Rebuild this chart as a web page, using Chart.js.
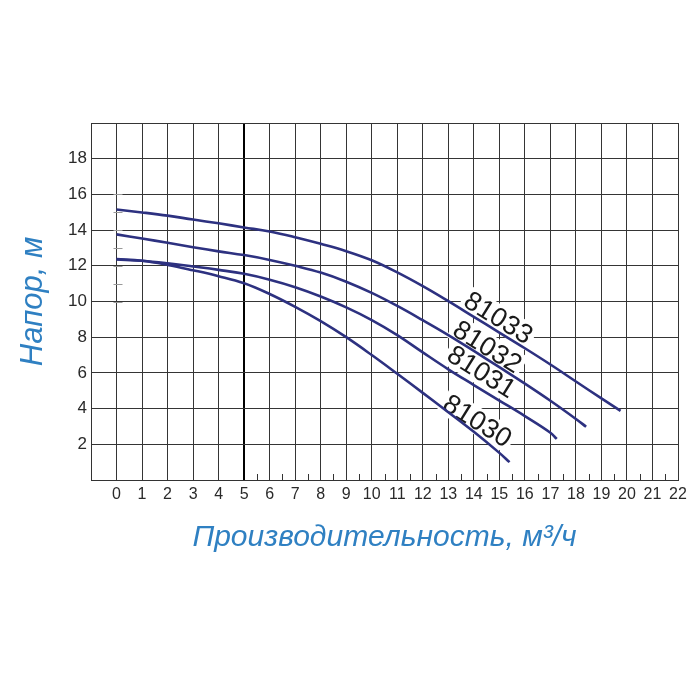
<!DOCTYPE html>
<html>
<head>
<meta charset="utf-8">
<script src="https://cdn.jsdelivr.net/npm/chart.js@4/dist/chart.umd.min.js"></script>
<style>
  html, body { margin: 0; padding: 0; background: #fff; }
  #wrap { width: 700px; height: 700px; }
</style>
</head>
<body>
<div id="wrap"><canvas id="pumpChart"></canvas></div>
<script>
// Pump curves: flow (m3/h) vs head (m)
const models = ['81033', '81032', '81031', '81030'];

const flow33 = [0, 1, 2, 3, 4, 5, 6, 7, 8, 9, 10, 11, 12, 13, 14, 15, 16, 17, 18, 19, 19.75];
const head33 = [15.15, 14.99, 14.81, 14.59, 14.38, 14.15, 13.92, 13.6, 13.23, 12.82, 12.31, 11.63, 10.86, 10.02, 9.14, 8.26, 7.38, 6.47, 5.52, 4.57, 3.87];

const flow32 = [0, 1, 2, 3, 4, 5, 6, 7, 8, 9, 10, 11, 12, 13, 14, 15, 16, 17, 18, 18.4];
const head32 = [13.76, 13.53, 13.29, 13.04, 12.81, 12.6, 12.33, 12.0, 11.62, 11.11, 10.48, 9.75, 8.95, 8.12, 7.23, 6.32, 5.4, 4.44, 3.42, 2.98];

const flow31 = [0, 1, 2, 3, 4, 5, 6, 7, 8, 9, 10, 11, 12, 13, 14, 15, 16, 17, 17.25];
const head31 = [12.35, 12.28, 12.14, 11.96, 11.77, 11.55, 11.22, 10.8, 10.28, 9.67, 8.96, 8.12, 7.15, 6.2, 5.32, 4.45, 3.58, 2.65, 2.3];

const flow30 = [0, 1, 2, 3, 4, 5, 6, 7, 8, 9, 10, 11, 12, 13, 14, 15, 15.4];
const head30 = [12.38, 12.28, 12.05, 11.75, 11.42, 11.02, 10.42, 9.7, 8.9, 8.0, 7.0, 5.95, 4.88, 3.8, 2.7, 1.52, 1.0];

// where each model number sits on the chart (data units)
const labelFlow = [14.96, 14.53, 14.3, 14.14];
const labelHead = [9.08, 7.45, 6.05, 3.3];

const xTitle = 'Производительность, м³/ч';
const yTitle = 'Напор, м';

const curveColor = '#2d3180';
const titleColor = '#2f80c2';
const gridColor = '#353535';

function toPoints(xs, ys) {
    return xs.map(function (x, i) { return { x: x, y: ys[i] }; });
}

const series = [
    toPoints(flow33, head33),
    toPoints(flow32, head32),
    toPoints(flow31, head31),
    toPoints(flow30, head30)
];

// model numbers written along the curves, on a white patch
const curveLabels = {
    id: 'curveLabels',
    beforeDatasetsDraw: function (chart) {
        const ctx = chart.ctx;
        const xs = chart.scales.x, ys = chart.scales.y;
        ctx.save();
        ctx.font = '27px "Liberation Sans", Arial, sans-serif';
        ctx.textAlign = 'center';
        ctx.textBaseline = 'middle';
        models.forEach(function (name, i) {
            const px = xs.getPixelForValue(labelFlow[i]);
            const py = ys.getPixelForValue(labelHead[i]);
            const w = ctx.measureText(name).width;
            ctx.save();
            ctx.translate(px, py);
            ctx.rotate(32 * Math.PI / 180);
            ctx.fillStyle = '#fff';
            ctx.fillRect(-w / 2 - 3, -13, w + 6, 26);
            ctx.fillStyle = '#1a1a1a';
            ctx.fillText(name, 0, 1);
            ctx.restore();
        });
        ctx.restore();
    },
    afterDraw: function (chart) {
        // small half-step ticks along the bottom edge and scale marks at x = 0
        const ctx = chart.ctx;
        const xs = chart.scales.x, ys = chart.scales.y;
        const bottom = chart.chartArea.bottom;
        ctx.save();
        ctx.strokeStyle = '#333';
        ctx.lineWidth = 1;
        ctx.beginPath();
        for (let v = 5.5; v < 22; v += 1) {
            const px = Math.round(xs.getPixelForValue(v)) + 0.5;
            ctx.moveTo(px, bottom);
            ctx.lineTo(px, bottom - 6);
        }
        ctx.stroke();
        ctx.strokeStyle = '#999';
        ctx.beginPath();
        const x0 = Math.round(xs.getPixelForValue(0)) + 0.5;
        for (let v = 10; v <= 16; v += 1) {
            const py = Math.round(ys.getPixelForValue(v)) + 0.5;
            ctx.moveTo(x0 - 4, py);
            ctx.lineTo(x0 + 5, py);
        }
        ctx.stroke();
        ctx.restore();
    }
};

new Chart(document.getElementById('pumpChart'), {
    type: 'scatter',
    data: {
        datasets: series.map(function (pts, i) {
            return {
                label: models[i],
                data: pts,
                showLine: true,
                borderColor: curveColor,
                borderWidth: 2.6,
                pointRadius: 0,
                tension: 0.4
            };
        })
    },
    options: {
        responsive: true,
        maintainAspectRatio: false,
        animation: false,
        layout: { padding: { left: 0, top: 123, right: 22, bottom: 0 } },
        plugins: {
            legend: { display: false },
            tooltip: { enabled: false }
        },
        scales: {
            x: {
                type: 'linear',
                min: -1,
                max: 22,
                afterFit: function (scale) { scale.height = 220; },
                ticks: {
                    stepSize: 1,
                    padding: 5,
                    color: '#2a2a2a',
                    font: { family: '"Liberation Sans", Arial, sans-serif', size: 16 },
                    callback: function (v) { return v < 0 ? '' : v; }
                },
                grid: {
                    drawTicks: false,
                    color: function (c) { return c.tick && c.tick.value === 5 ? '#000' : gridColor; },
                    lineWidth: function (c) { return c.tick && c.tick.value === 5 ? 2 : 1; }
                },
                border: { color: '#333', width: 1 },
                title: {
                    display: true,
                    text: xTitle,
                    color: titleColor,
                    padding: { top: 0, bottom: 144 },
                    font: { family: '"Liberation Sans", Arial, sans-serif', size: 30, style: 'italic' }
                }
            },
            y: {
                type: 'linear',
                min: 0,
                max: 20,
                afterFit: function (scale) { scale.width = 91; },
                ticks: {
                    stepSize: 2,
                    padding: 4,
                    color: '#2a2a2a',
                    font: { family: '"Liberation Sans", Arial, sans-serif', size: 17 },
                    callback: function (v) { return (v === 0 || v === 20) ? '' : v; }
                },
                grid: {
                    drawTicks: false,
                    color: gridColor,
                    lineWidth: 1
                },
                border: { color: '#333', width: 1 },
                title: {
                    display: true,
                    text: yTitle,
                    color: titleColor,
                    padding: { top: 15, bottom: 0 },
                    font: { family: '"Liberation Sans", Arial, sans-serif', size: 31, style: 'italic' }
                }
            }
        }
    },
    plugins: [curveLabels]
});
</script>
</body>
</html>
